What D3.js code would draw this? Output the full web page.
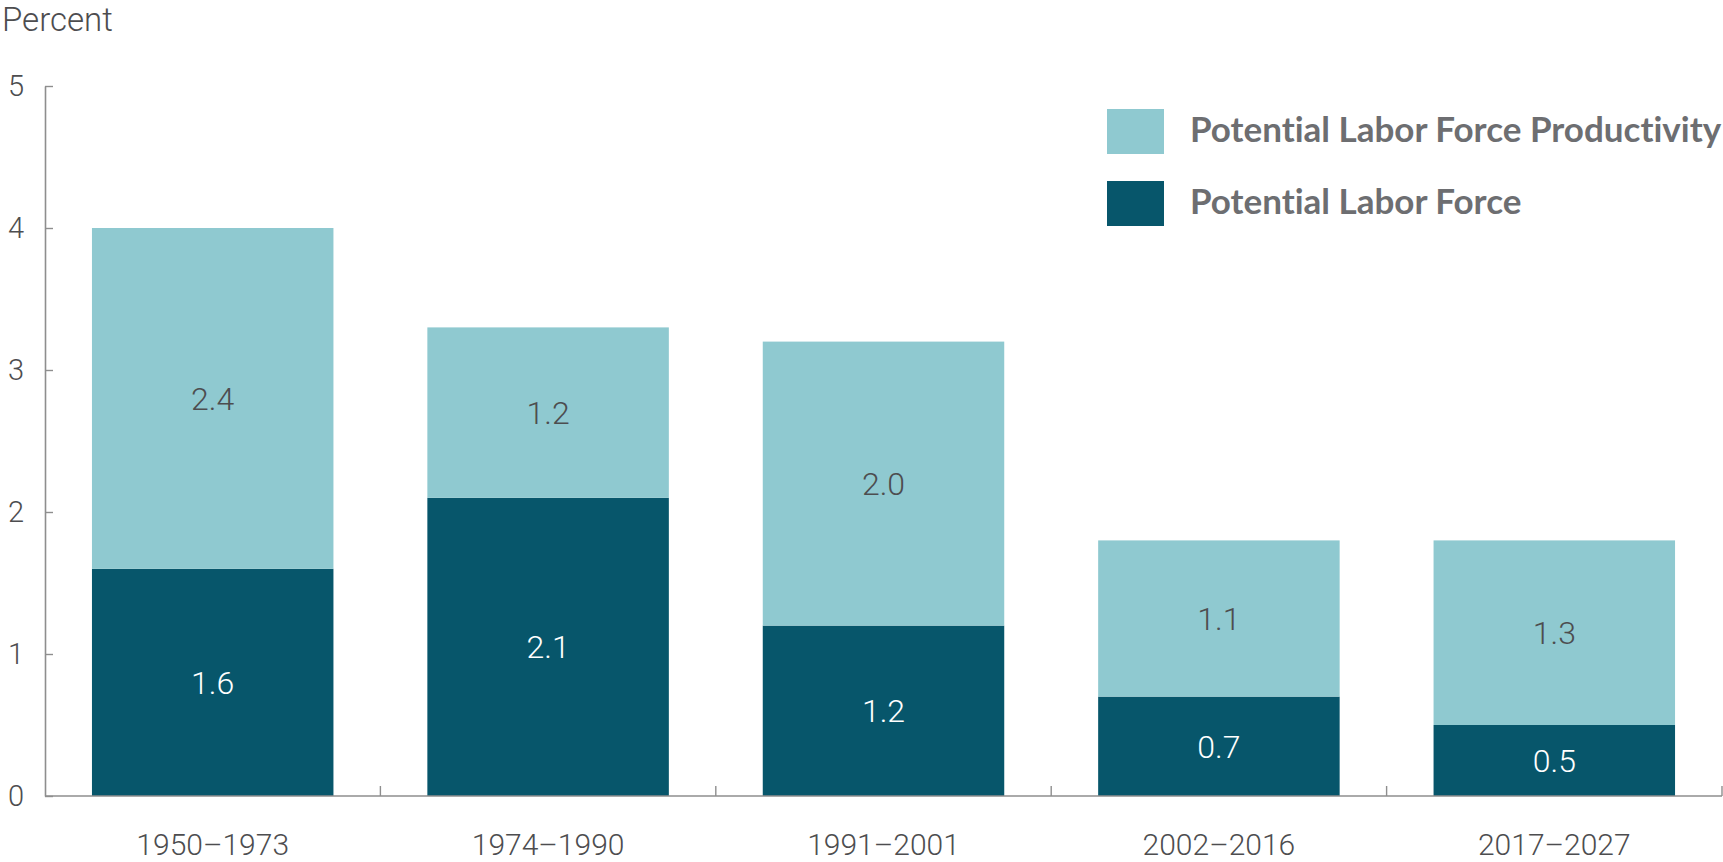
<!DOCTYPE html>
<html>
<head>
<meta charset="utf-8">
<script src="https://cdn.jsdelivr.net/npm/d3@7"></script>
<style>
  body { margin: 0; background: #fff; }
  svg { display: block; }
  text { font-variant-ligatures: none; font-feature-settings: "liga" 0, "clig" 0; }
</style>
</head>
<body>
<script>
// chart data
var periods = ["1950\u20131973", "1974\u20131990", "1991\u20132001", "2002\u20132016", "2017\u20132027"];
var laborForce = [1.6, 2.1, 1.2, 0.7, 0.5];
var productivity = [2.4, 1.2, 2.0, 1.1, 1.3];
var yTicks = [0, 1, 2, 3, 4, 5];
var seriesKeys = ["laborForce", "productivity"];
var legendNames = ["Potential Labor Force Productivity", "Potential Labor Force"];

var width = 1723, height = 862;
var lightColor = "#8fc9d0", darkColor = "#07566b";
var axisColor = "#8e8e8e", textColor = "#4d4d4f";
var lightFont = "Roboto, 'Open Sans', sans-serif";

var svg = d3.select("body").append("svg")
  .attr("width", width).attr("height", height);

// table for stacking
var rows = periods.map(function (p, i) {
  return { period: p, laborForce: laborForce[i], productivity: productivity[i] };
});
var stacked = d3.stack().keys(seriesKeys)(rows);

var x = d3.scaleBand().domain(periods).range([45, 1722]).padding(0);
var y = d3.scaleLinear().domain([0, 5]).range([796, 86]);
var inset = x.bandwidth() * 0.14;
var colors = { laborForce: darkColor, productivity: lightColor };

// bars
var layers = svg.append("g").selectAll("g")
  .data(stacked).enter().append("g")
  .attr("fill", function (d) { return colors[d.key]; });

layers.selectAll("rect")
  .data(function (d) { return d; })
  .enter().append("rect")
  .attr("x", function (d) { return x(d.data.period) + inset; })
  .attr("width", x.bandwidth() - 2 * inset)
  .attr("y", function (d) { return y(d[1]); })
  .attr("height", function (d) { return y(d[0]) - y(d[1]); });

// value labels in the middle of each segment
layers.selectAll("text")
  .data(function (d) { return d.map(function (s) { s.key = d.key; return s; }); })
  .enter().append("text")
  .attr("x", function (d) { return x(d.data.period) + x.bandwidth() / 2; })
  .attr("y", function (d) { return (y(d[0]) + y(d[1])) / 2; })
  .attr("dy", "0.36em")
  .attr("text-anchor", "middle")
  .style("font-family", lightFont).style("font-weight", 300).style("font-size", "32px")
  .attr("fill", function (d) { return d.key === "laborForce" ? "#ffffff" : textColor; })
  .text(function (d) { return d3.format(".1f")(d.data[d.key]); });

// y axis, ticks pointing inward
var yAxis = svg.append("g")
  .attr("transform", "translate(45,0)")
  .call(d3.axisLeft(y).tickValues(yTicks).tickFormat(d3.format("d"))
    .tickSizeInner(-8).tickSizeOuter(0).tickPadding(21));
yAxis.select(".domain").attr("stroke", axisColor).attr("stroke-width", 1.6);
yAxis.selectAll(".tick line").attr("stroke", axisColor).attr("stroke-width", 1.4);
yAxis.selectAll(".tick text")
  .attr("fill", textColor)
  .style("font-family", lightFont).style("font-weight", 300).style("font-size", "29px");

// x axis: baseline with ticks between categories
var xAxis = svg.append("g");
xAxis.append("line")
  .attr("x1", x.range()[0]).attr("x2", x.range()[1])
  .attr("y1", y(0)).attr("y2", y(0))
  .attr("stroke", axisColor).attr("stroke-width", 1.6);
xAxis.selectAll(".sep")
  .data(periods).enter().append("line")
  .attr("class", "sep")
  .attr("x1", function (d) { return x(d) + x.bandwidth(); })
  .attr("x2", function (d) { return x(d) + x.bandwidth(); })
  .attr("y1", y(0)).attr("y2", y(0) - 10)
  .attr("stroke", axisColor).attr("stroke-width", 1.4);
xAxis.selectAll(".lab")
  .data(periods).enter().append("text")
  .attr("class", "lab")
  .attr("x", function (d) { return x(d) + x.bandwidth() / 2; })
  .attr("y", 855)
  .attr("text-anchor", "middle")
  .attr("fill", textColor)
  .style("font-family", lightFont).style("font-weight", 300).style("font-size", "30px")
  .text(function (d) { return d; });

// axis title
svg.append("text")
  .attr("x", 2).attr("y", 31)
  .attr("fill", textColor)
  .style("font-family", lightFont).style("font-weight", 300).style("font-size", "33px")
  .text("Percent");

// legend
var legend = svg.append("g").attr("transform", "translate(1107,109)");
var legendItems = legend.selectAll("g")
  .data(legendNames).enter().append("g")
  .attr("transform", function (d, i) { return "translate(0," + (i * 72) + ")"; });
legendItems.append("rect")
  .attr("width", 57).attr("height", 45)
  .attr("fill", function (d, i) { return i === 0 ? lightColor : darkColor; });
legendItems.append("text")
  .attr("x", 83).attr("y", 33)
  .attr("fill", "#6d6e71")
  .style("font-family", "Lato, 'Open Sans', sans-serif").style("font-weight", 700).style("font-size", "35px")
  .text(function (d) { return d; });
</script>
</body>
</html>
